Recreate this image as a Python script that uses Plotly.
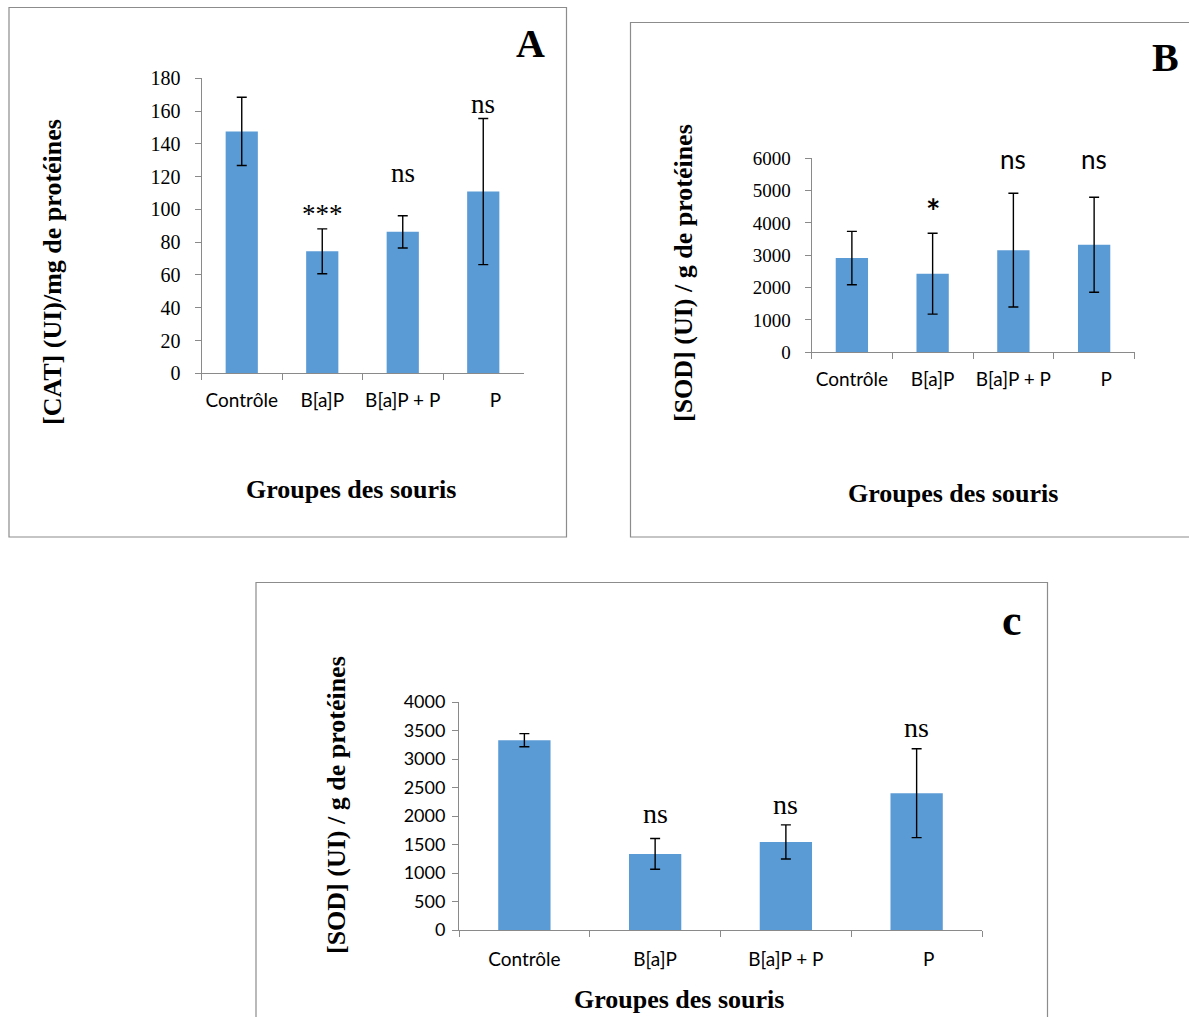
import plotly.graph_objects as go

W, H = 1189, 1017

categories = ["Contrôle", "B[a]P", "B[a]P + P", "P"]
# tick labels as printed (the last label sits slightly right of its bar)
tick_labels = ["Contrôle", "B[a]P", "B[a]P + P", "\u00a0\u00a0\u00a0\u00a0\u00a0P"]

# Panel A : CAT
cat_mean = [147.6, 74.4, 86.3, 110.9]
cat_err = [20.8, 13.7, 9.8, 44.6]
cat_sig = ["", "***", "ns", "ns"]
cat_sig_y = [None, 97.5, 122.5, 164.5]

# Panel B : SOD
sodb_mean = [2915, 2430, 3160, 3325]
sodb_err = [825, 1250, 1760, 1470]
sodb_sig = ["", "<b><span style='font-size:34px'>*</span></b>", "ns", "ns"]
sodb_sig_y = [None, 4400, 5990, 5970]

# Panel C : SOD
sodc_mean = [3330, 1335, 1545, 2400]
sodc_err = [116, 270, 300, 780]
sodc_sig = ["", "ns", "ns", "ns"]
sodc_sig_y = [None, 2050, 2210, 3560]

BAR = "#5B9BD5"
AX = "#8A8A8A"
SERIF = "Liberation Serif, Times New Roman, serif"
SANS = "Lato, Carlito, Calibri, sans-serif"


def px(x):
    return x / W


def py(y):
    return 1 - y / H


fig = go.Figure()

panels = [
    dict(mean=cat_mean, err=cat_err, sig=cat_sig, sigy=cat_sig_y, ax="", x0=201.5, x1=523.5,
         y0=373.3, y1=78.3, rng=[0, 180], dtick=20, tickfont=dict(family=SERIF, size=20, color="black"),
         sigfont=dict(family=SERIF, size=27, color="black"), ystand=10, xsize=19, xstand=10),
    dict(mean=sodb_mean, err=sodb_err, sig=sodb_sig, sigy=sodb_sig_y, ax="2", x0=811.5, x1=1134.5,
         y0=352.3, y1=158.3, rng=[0, 6000], dtick=1000, tickfont=dict(family=SERIF, size=19, color="black"),
         sigfont=dict(family=SANS, size=26, color="black"), ystand=10, xsize=19, xstand=10),
    dict(mean=sodc_mean, err=sodc_err, sig=sodc_sig, sigy=sodc_sig_y, ax="3", x0=459, x1=982,
         y0=930, y1=702, rng=[0, 4000], dtick=500, tickfont=dict(family=SANS, size=18, color="black"),
         sigfont=dict(family=SERIF, size=28, color="black"), ystand=3, xsize=19, xstand=12),
]

layout_axes = {}
annotations = []
for p in panels:
    xa = "x" + p["ax"]
    ya = "y" + p["ax"]
    fig.add_trace(go.Bar(
        x=categories, y=p["mean"], xaxis=xa, yaxis=ya,
        marker=dict(color=BAR, line=dict(width=0)),
        error_y=dict(type="data", array=p["err"], visible=True, color="black", thickness=1.4, width=5),
        showlegend=False,
    ))
    layout_axes["xaxis" + p["ax"]] = dict(
        domain=[px(p["x0"]), px(p["x1"])], anchor=ya, type="category", automargin=False,
        tickmode="array", tickvals=categories, ticktext=tick_labels,
        showline=True, linecolor=AX, linewidth=1, ticks="outside", tickson="boundaries",
        ticklen=6, tickcolor=AX, showgrid=False, zeroline=False, tickangle=0,
        tickfont=dict(family=SANS, size=p["xsize"], color="black"), ticklabelstandoff=p["xstand"],
    )
    layout_axes["yaxis" + p["ax"]] = dict(
        domain=[py(p["y0"]), py(p["y1"])], anchor=xa, range=p["rng"], dtick=p["dtick"],
        automargin=False,
        showline=True, linecolor=AX, linewidth=1, ticks="outside", ticklen=6, tickcolor=AX,
        showgrid=False, zeroline=False, tickfont=p["tickfont"], ticklabelstandoff=p["ystand"],
    )
    for c, s, yv in zip(categories, p["sig"], p["sigy"]):
        if s:
            annotations.append(dict(x=c, y=yv, xref=xa, yref=ya, text=s, showarrow=False,
                                    font=p["sigfont"], xanchor="center", yanchor="middle"))

# Titles
ytitle_font = dict(family=SERIF, size=26, color="black")
titles = [
    dict(x=px(53), y=py(272), text="<b>[CAT] (UI)/mg de protéines</b>", textangle=-90),
    dict(x=px(683), y=py(273), text="<b>[SOD] (UI) / g de protéines</b>", textangle=-90),
    dict(x=px(336), y=py(805), text="<b>[SOD] (UI) / g de protéines</b>", textangle=-90),
    dict(x=px(351), y=py(489), text="<b>Groupes des souris</b>"),
    dict(x=px(953), y=py(493), text="<b>Groupes des souris</b>"),
    dict(x=px(679), y=py(999), text="<b>Groupes des souris</b>"),
]
for a in titles:
    a.update(xref="paper", yref="paper", showarrow=False, font=ytitle_font,
             xanchor="center", yanchor="middle")
annotations += titles

for t, x, y, s in [("A", 530, 43, 40), ("B", 1165, 58, 40), ("c", 1012, 620, 44)]:
    annotations.append(dict(x=px(x), y=py(y), xref="paper", yref="paper", text="<b>%s</b>" % t,
                            showarrow=False, font=dict(family=SERIF, size=s, color="black"),
                            xanchor="center", yanchor="middle"))

shapes = [
    dict(type="rect", xref="paper", yref="paper", x0=px(9), x1=px(566.5), y0=py(537), y1=py(7.5),
         line=dict(color="#8C8C8C", width=1.2), fillcolor="rgba(0,0,0,0)", layer="below"),
    dict(type="rect", xref="paper", yref="paper", x0=px(630.5), x1=px(1195), y0=py(537), y1=py(22.5),
         line=dict(color="#8C8C8C", width=1.2), fillcolor="rgba(0,0,0,0)", layer="below"),
    dict(type="rect", xref="paper", yref="paper", x0=px(256), x1=px(1047.5), y0=py(1025), y1=py(582.5),
         line=dict(color="#8C8C8C", width=1.2), fillcolor="rgba(0,0,0,0)", layer="below"),
]

fig.update_layout(
    width=W, height=H, margin=dict(l=0, r=0, t=0, b=0, pad=0, autoexpand=False),
    paper_bgcolor="white", plot_bgcolor="white",
    bargap=0.6, annotations=annotations, shapes=shapes, showlegend=False,
    **layout_axes,
)

fig.write_html("out.html", config=dict(displayModeBar=False))
